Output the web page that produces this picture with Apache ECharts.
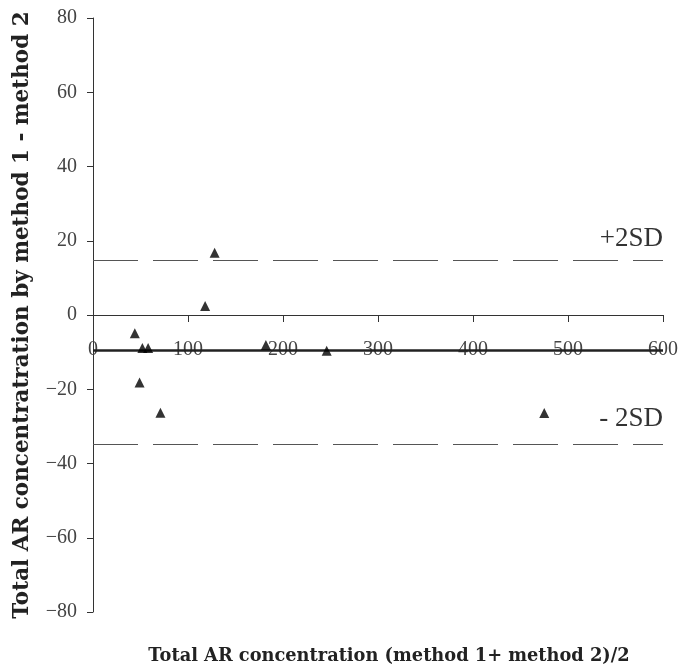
<!DOCTYPE html>
<html>
<head>
<meta charset="utf-8">
<script src="https://cdn.jsdelivr.net/npm/echarts@6/dist/echarts.min.js"></script>
<style>
  html, body { margin: 0; padding: 0; background: #fff; }
  #chart { width: 682px; height: 666px; }
</style>
</head>
<body>
<div id="chart"></div>
<script>
// mean of the two methods vs. their difference
const meanValues = [44, 52, 58, 49, 71, 118, 128, 182, 246, 475]
const diffValues = [-4.9, -8.9, -8.9, -18.2, -26.3, 2.4, 16.8, -8.1, -9.6, -26.4]

const biasLine = -9.6
const upperLimit = 14.8
const lowerLimit = -34.8

const xTicks = [0, 100, 200, 300, 400, 500, 600]
const yTicks = [-80, -60, -40, -20, 0, 20, 40, 60, 80]

const points = meanValues.map((m, i) => [m, diffValues[i]])
const serif = '"Liberation Serif", "DejaVu Serif", serif'
const boldSerif = '"DejaVu Serif", "Liberation Serif", serif'

const chart = echarts.init(document.getElementById('chart'))
chart.setOption({
  animation: false,
  grid: { left: 93, right: 19, top: 18, bottom: 54, outerBoundsMode: 'none' },
  xAxis: {
    type: 'value',
    min: xTicks[0],
    max: xTicks[xTicks.length - 1],
    interval: 100,
    axisLine: { onZero: true, lineStyle: { color: '#333', width: 1 } },
    axisTick: { show: true, length: 7, lineStyle: { color: '#333' } },
    // labels stay at the grid bottom, so pull them up under the zero line
    axisLabel: { margin: -272, fontFamily: serif, fontSize: 20, color: '#444' },
    splitLine: { show: false }
  },
  yAxis: {
    type: 'value',
    min: yTicks[0],
    max: yTicks[yTicks.length - 1],
    interval: 20,
    axisLine: { show: true, lineStyle: { color: '#333', width: 1 } },
    axisTick: { show: true, length: 6, lineStyle: { color: '#333' } },
    axisLabel: {
      margin: 16, fontFamily: serif, fontSize: 20, color: '#444',
      formatter: v => String(v).replace('-', '\u2212')
    },
    splitLine: { show: false },
    name: 'Total AR concentratration by method 1 - method 2',
    nameLocation: 'middle',
    nameGap: 60,
    nameTextStyle: { fontFamily: boldSerif, fontWeight: 'bold', fontSize: 21.5, color: '#222' }
  },
  graphic: [{
    type: 'text',
    x: 389,
    y: 647,
    style: {
      text: 'Total AR concentration (method 1+ method 2)/2',
      font: 'bold 17.8px ' + boldSerif,
      fill: '#222',
      align: 'center'
    }
  }],
  series: [
    {
      type: 'scatter',
      data: points,
      symbol: 'triangle',
      symbolSize: 10,
      itemStyle: { color: '#000' },
      z: 5,
      markLine: {
        silent: true,
        symbol: 'none',
        data: [
          [
            { coord: [0, upperLimit], lineStyle: { type: [45, 15], color: '#555', width: 1 },
              label: { show: true, position: 'insideEndTop', formatter: '+2SD', distance: [0, 8],
                fontFamily: serif, fontSize: 27, color: '#333' } },
            { coord: [600, upperLimit] }
          ],
          [
            { coord: [0, lowerLimit], lineStyle: { type: [45, 15], color: '#555', width: 1 },
              label: { show: true, position: 'insideEndTop', formatter: '- 2SD', distance: [0, 12],
                fontFamily: serif, fontSize: 27, color: '#333' } },
            { coord: [600, lowerLimit] }
          ],
          [
            { coord: [0, biasLine], lineStyle: { type: 'solid', color: '#222', width: 2.5 },
              label: { show: false } },
            { coord: [600, biasLine] }
          ]
        ]
      }
    }
  ]
})
</script>
</body>
</html>
